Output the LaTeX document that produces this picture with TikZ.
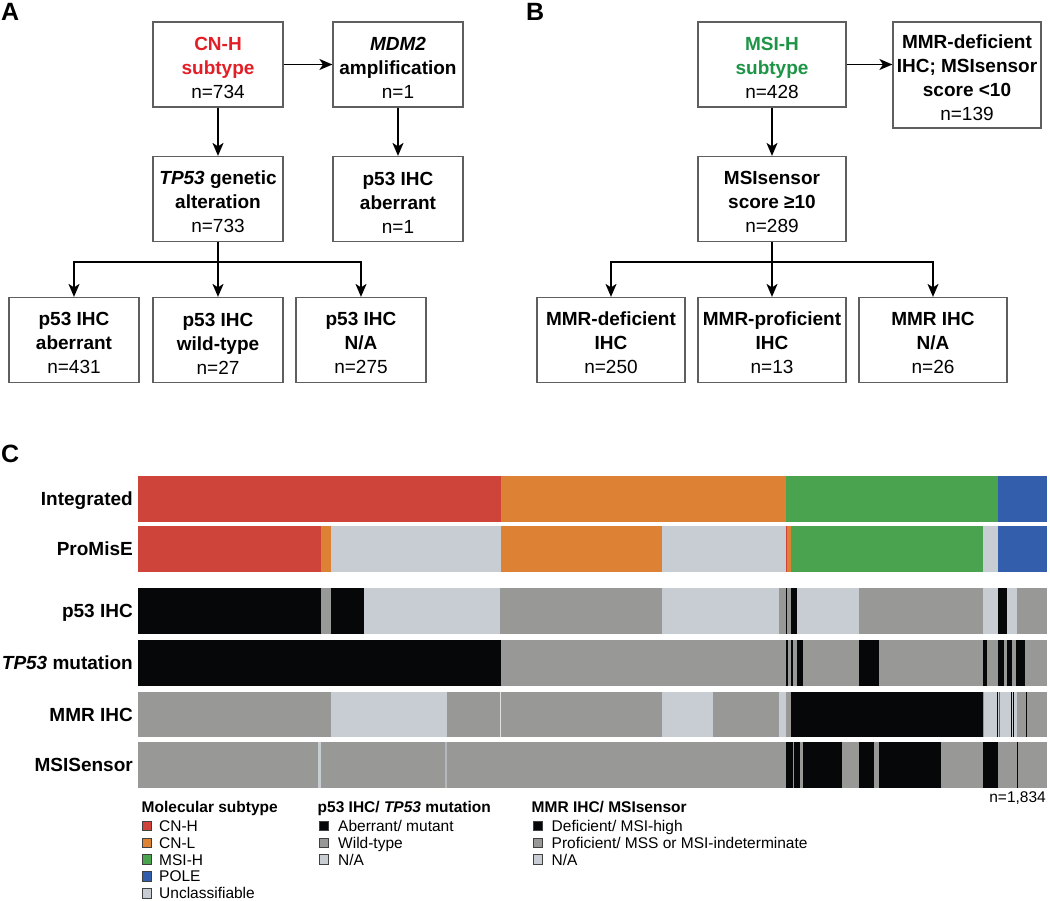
\documentclass[tikz,border=0pt]{standalone}
\usepackage{fontspec}
\setmainfont{Liberation Sans}
\usetikzlibrary{arrows.meta,calc}
\definecolor{txtred}{RGB}{228,30,38}
\definecolor{txtgreen}{RGB}{30,148,70}
\definecolor{boxgray}{RGB}{95,95,95}
\definecolor{cnh}{RGB}{207,68,58}
\definecolor{cnl}{RGB}{221,130,52}
\definecolor{msih}{RGB}{74,163,78}
\definecolor{pole}{RGB}{50,94,171}
\definecolor{na}{RGB}{200,205,211}
\definecolor{wt}{RGB}{152,152,150}
\definecolor{blk}{RGB}{6,7,9}
\newcommand\segs[3]{\foreach \c/\a/\b in {#3} {\fill[\c] (\a,#1) rectangle (\b,#2);}}
\newcommand\st{\rule{0pt}{20pt}}
\begin{document}
\begin{tikzpicture}[x=1pt,y=-1pt,
  box/.style={draw=boxgray, line width=1.2pt, minimum width=130pt, minimum height=85pt,
    inner sep=0pt, align=center, font=\fontsize{19}{24}\selectfont},
  boxb/.style={box, minimum width=148pt},
  arr/.style={-{Stealth[length=13pt,width=11pt,inset=3.5pt]}, line width=1.5pt},
  panel/.style={font=\fontsize{25}{28}\selectfont\bfseries, inner sep=0pt, anchor=base west},
  rowlab/.style={font=\fontsize{19}{22}\selectfont\bfseries, inner sep=0pt, anchor=base east},
  legtitle/.style={font=\fontsize{15.5}{18}\selectfont\bfseries, inner sep=0pt, anchor=base west},
  legtext/.style={font=\fontsize{15.5}{18}\selectfont, inner sep=0pt, anchor=base west},
  legsq/.style={draw=black!75, line width=0.9pt, minimum size=9.5pt, inner sep=0pt}
]
\fill[white] (0,0) rectangle (1050,900);
\useasboundingbox (0,0) rectangle (1050,900);

% panel letters
\node[panel] (lA) at (1,20) {A};
\node[panel] (lB) at (526,20) {B};
\node[panel] (lC) at (1,462) {C};

% ---------- Panel A ----------
\node[box] (cnhbox) at (218,64.5) {\st\textcolor{txtred}{\textbf{CN-H}}\\\textcolor{txtred}{\textbf{subtype}}\\n=734};
\node[box] (mdm) at (398,64.5) {\st\textbf{\textit{MDM2}}\\\textbf{amplification}\\n=1};
\node[box] (tp) at (218,199) {\st\textbf{\textit{TP53} genetic}\\\textbf{alteration}\\n=733};
\node[box] (pab1) at (398,199) {\st\textbf{p53 IHC}\\\textbf{aberrant}\\n=1};
\node[box] (a1) at (74,340) {\st\textbf{p53 IHC}\\\textbf{aberrant}\\n=431};
\node[box] (a2) at (218,340) {\st\textbf{p53 IHC}\\\textbf{wild-type}\\n=27};
\node[box] (a3) at (361,340) {\st\textbf{p53 IHC}\\\textbf{N/A}\\n=275};

\draw[arr] (cnhbox.east) -- (mdm.west);
\draw[arr] (cnhbox.south) -- (tp.north);
\draw[arr] (mdm.south) -- (pab1.north);
\coordinate (ja) at ($(tp.south)+(0,20)$);
\draw[arr] (tp.south) -- (a2.north);
\draw[arr] (ja) -| (a1.north);
\draw[arr] (ja) -| (a3.north);

% ---------- Panel B ----------
\node[boxb] (msi) at (772,64.5) {\st\textcolor{txtgreen}{\textbf{MSI-H}}\\\textcolor{txtgreen}{\textbf{subtype}}\\n=428};
\node[boxb, minimum height=106pt] (mdef) at (967,75) {\st\textbf{MMR-deficient}\\\textbf{IHC; MSIsensor}\\\textbf{score <10}\\n=139};
\node[boxb] (mss) at (772,199) {\st\textbf{MSIsensor}\\\textbf{score ≥10}\\n=289};
\node[boxb] (b1) at (611,340) {\st\textbf{MMR-deficient}\\\textbf{IHC}\\n=250};
\node[boxb] (b2) at (772,340) {\st\textbf{MMR-proficient}\\\textbf{IHC}\\n=13};
\node[boxb] (b3) at (933,340) {\st\textbf{MMR IHC}\\\textbf{N/A}\\n=26};

\draw[arr] (msi.east) -- (msi.east -| mdef.west);
\draw[arr] (msi.south) -- (mss.north);
\coordinate (jb) at ($(mss.south)+(0,20)$);
\draw[arr] (mss.south) -- (b2.north);
\draw[arr] (jb) -| (b1.north);
\draw[arr] (jb) -| (b3.north);

% ---------- Panel C bars ----------
% Integrated
\segs{476}{521.5}{cnh/138/501, cnl/501/786, msih/786/997.5, pole/997.5/1047}
% ProMisE
\segs{526}{572}{cnh/138/321, cnl/321/330.5, na/330.5/501, cnl/501/661.5, na/661.5/786,
  cnh/786/787.3, cnl/787.3/791, msih/791/982.5, na/982.5/997.5, pole/997.5/1047}
% p53 IHC
\segs{588}{634}{blk/138/321, wt/321/330.5, blk/330.5/364, na/364/500, wt/500/661.5,
  na/661.5/779.3, wt/779.3/785.7, blk/785.7/787.3, wt/787.3/791, blk/791/796.7,
  na/796.7/859.3, wt/859.3/982.7, na/982.7/998, blk/998/1007.3, na/1007.3/1016.7, wt/1016.7/1047}
% TP53 mutation
\segs{640}{686}{blk/138/501, wt/501/1047, blk/785.7/787.5, blk/790.5/793.4, blk/796.5/803.2,
  blk/858.9/878.9, blk/982.5/987.2, blk/997.6/1004.2, blk/1007.4/1011.6, blk/1016.3/1025}
% MMR IHC
\segs{691.5}{737}{wt/138/330.5, na/330.5/447, wt/447/1047, na!60!white/500.2/501.2,
  na/661.5/712.6, na/779.3/785.7, blk/791/982.7, na/984/1016.7,
  blk/996.7/997.8, wt!70!black/998.6/999.5, blk/1010.5/1011.5, blk/1012.8/1013.8, blk/1025.8/1027.3}
% MSISensor
\segs{742}{788}{wt/138/1047, na/318/321, na!60!wt/445.3/447,
  blk/785.7/792.7, blk/794.3/800.3, blk/803.3/841.7, blk/859.3/873.5, blk/879.3/941,
  blk/982.7/998, blk/1016.5/1017.7}

% row labels
\node[rowlab] (rInt) at (133,505.3) {Integrated};
\node[rowlab] (rPro) at (133,555.8) {ProMisE};
\node[rowlab] (rP53) at (133,617.8) {p53 IHC};
\node[rowlab] (rTP) at (133,669.8) {\textit{TP53} mutation};
\node[rowlab] (rMMR) at (133,721.0) {MMR IHC};
\node[rowlab] (rMSI) at (133,771.8) {MSISensor};

\node[legtext, anchor=base east] (ntot) at (1046,802.5) {n=1,834};

% ---------- Legend ----------
\node[legtitle] (t1) at (141.5,812.5) {Molecular subtype};
\node[legtitle] (t2) at (317.5,812.5) {p53 IHC/ \textit{TP53} mutation};
\node[legtitle] (t3) at (531.5,812.5) {MMR IHC/ MSIsensor};

\foreach \col/\lab [count=\i from 0] in {cnh/{CN-H}, cnl/{CN-L}, msih/{MSI-H}, pole/{POLE}, na/{Unclassifiable}} {
  \node[legsq, fill=\col] (s1\i) at (147,826+16.8*\i) {};
  \node[legtext] (l1\i) at (159,831.5+16.8*\i) {\lab};
}
\foreach \col/\lab [count=\i from 0] in {blk/{Aberrant/ mutant}, wt/{Wild-type}, na/{N/A}} {
  \node[legsq, fill=\col] (s2\i) at (324,826+16.8*\i) {};
  \node[legtext] (l2\i) at (338,831.5+16.8*\i) {\lab};
}
\node[legsq, fill=blk] (s30) at (538,826) {};
\node[legtext] (l30) at (551.5,831.5) {Deficient/ MSI-high};
\node[legsq, fill=wt] (s31) at (538,842.8) {};
\node[legtext] (l31) at (551.5,848.3) {Proficient/ MSS or MSI-indeterminate};
\node[legsq, fill=na] (s32) at (538,859.6) {};
\node[legtext] (l32) at (551.5,865.1) {N/A};
\end{tikzpicture}
\end{document}
